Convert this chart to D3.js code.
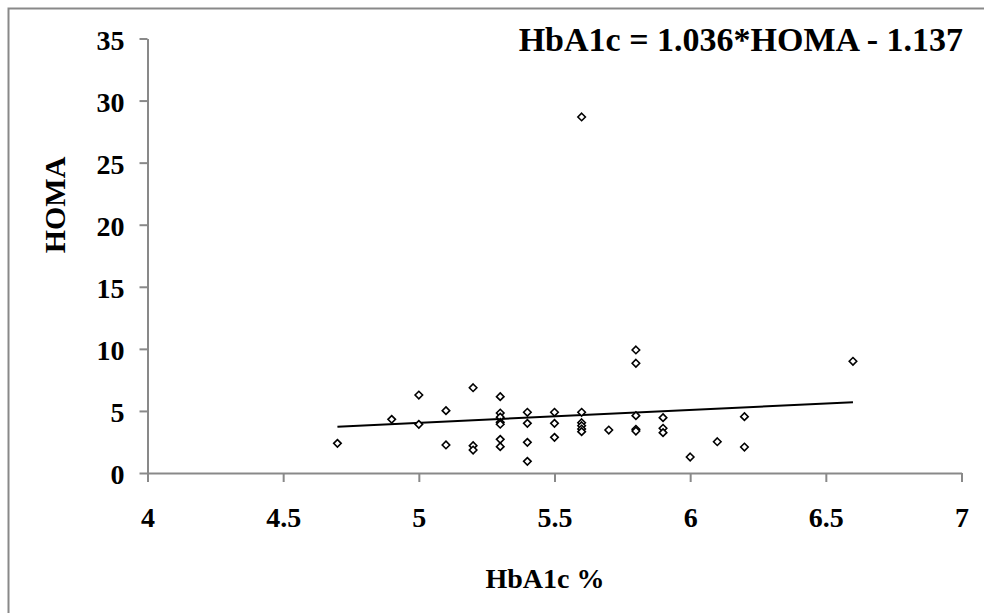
<!DOCTYPE html>
<html>
<head>
<meta charset="utf-8">
<script src="https://cdn.jsdelivr.net/npm/d3@7"></script>
<style>
  html, body { margin: 0; padding: 0; background: #fff; }
  svg { display: block; }
</style>
</head>
<body>
<svg id="chart" width="984" height="613"></svg>
<script>
// HbA1c % (x) and HOMA (y) values
const hba1c = [
  4.7, 4.9,
  5.0, 5.0,
  5.1, 5.1,
  5.2, 5.2, 5.2,
  5.3, 5.3, 5.3, 5.3, 5.3, 5.3, 5.3,
  5.4, 5.4, 5.4, 5.4,
  5.5, 5.5, 5.5,
  5.6, 5.6, 5.6, 5.6, 5.6, 5.6,
  5.7,
  5.8, 5.8, 5.8, 5.8, 5.8,
  5.9, 5.9, 5.9,
  6.0, 6.1,
  6.2, 6.2,
  6.6
];
const homa = [
  2.39, 4.32,
  6.28, 3.92,
  5.02, 2.26,
  6.87, 2.20, 1.85,
  6.15, 4.83, 4.50, 4.08, 3.93, 2.71, 2.12,
  4.89, 4.00, 2.47, 0.94,
  4.89, 4.00, 2.87,
  28.68, 4.89, 4.05, 3.81, 3.54, 3.33,
  3.46,
  9.91, 8.84, 4.62, 3.52, 3.38,
  4.46, 3.60, 3.25,
  1.29, 2.52,
  4.54, 2.09,
  9.00
];
// linear trend line from the equation shown on the chart
const trendSlope = 1.036;
const trendIntercept = -1.137;
const trendRange = [4.7, 6.6];

const xTicks = [4, 4.5, 5, 5.5, 6, 6.5, 7];
const yTicks = [0, 5, 10, 15, 20, 25, 30, 35];
const xDomain = [4, 7];
const yDomain = [0, 35];

const titleText = "HbA1c = 1.036*HOMA - 1.137";
const xLabel = "HbA1c %";
const yLabel = "HOMA";

const FONT = '"Liberation Serif", "Times New Roman", Times, "Nimbus Roman", "DejaVu Serif", serif';

const svg = d3.select("#chart");
const W = 984, H = 613;
const axisColor = "#898989";

const x = d3.scaleLinear().domain(xDomain).range([147.5, 961.5]);
const y = d3.scaleLinear().domain(yDomain).range([473, 38.5]);

function styleText(sel, size) {
  sel.style("font-family", FONT)
     .style("font-weight", "bold")
     .style("font-size", size + "px")
     .attr("fill", "#000");
}

// outer frame (top and left edges visible)
svg.append("path")
  .attr("d", `M8.5,${H} L8.5,8.5 L${W},8.5`)
  .attr("fill", "none")
  .attr("stroke", axisColor)
  .attr("stroke-width", 2);

// y axis
const yAxis = svg.append("g")
  .attr("transform", `translate(${x(xDomain[0])},0)`)
  .call(d3.axisLeft(y).tickValues(yTicks).tickSize(8).tickSizeOuter(0).tickPadding(15).tickFormat(d3.format("d")));
yAxis.attr("font-family", null).attr("font-size", null);
yAxis.select(".domain").attr("stroke", axisColor).attr("stroke-width", 2);
yAxis.selectAll(".tick line").attr("stroke", axisColor).attr("stroke-width", 2);
yAxis.selectAll(".tick text").call(styleText, 28).attr("dy", "0.38em");

// x axis
const xAxis = svg.append("g")
  .attr("transform", `translate(0,${y(yDomain[0])})`)
  .call(d3.axisBottom(x).tickValues(xTicks).tickSize(9).tickSizeOuter(0).tickPadding(0).tickFormat(d => String(d)));
xAxis.attr("font-family", null).attr("font-size", null);
xAxis.select(".domain").attr("stroke", axisColor).attr("stroke-width", 2);
xAxis.selectAll(".tick line").attr("stroke", axisColor).attr("stroke-width", 2);
xAxis.selectAll(".tick text").call(styleText, 28).attr("y", 54).attr("dy", "0");

// trend line
const trendPts = trendRange.map(v => [v, trendSlope * v + trendIntercept]);
svg.append("path")
  .datum(trendPts)
  .attr("d", d3.line().x(d => x(d[0])).y(d => y(d[1])))
  .attr("fill", "none")
  .attr("stroke", "#000")
  .attr("stroke-width", 2);

// points (diamonds)
const data = hba1c.map((v, i) => ({ x: v, y: homa[i] }));
const diamond = d3.symbol().type(d3.symbolDiamond2).size(36);
svg.append("g").selectAll("path")
  .data(data)
  .join("path")
  .attr("transform", d => `translate(${x(d.x)},${y(d.y)})`)
  .attr("d", diamond)
  .attr("fill", "#fff")
  .attr("stroke", "#000")
  .attr("stroke-width", 1.6);

// equation title
svg.append("text")
  .attr("x", 963)
  .attr("y", 51)
  .attr("text-anchor", "end")
  .call(styleText, 34)
  .text(titleText);

// axis titles
svg.append("text")
  .attr("x", 545)
  .attr("y", 588)
  .attr("text-anchor", "middle")
  .call(styleText, 28)
  .text(xLabel);

svg.append("text")
  .attr("transform", "translate(65,205) rotate(-90)")
  .attr("text-anchor", "middle")
  .call(styleText, 30)
  .text(yLabel);
</script>
</body>
</html>
